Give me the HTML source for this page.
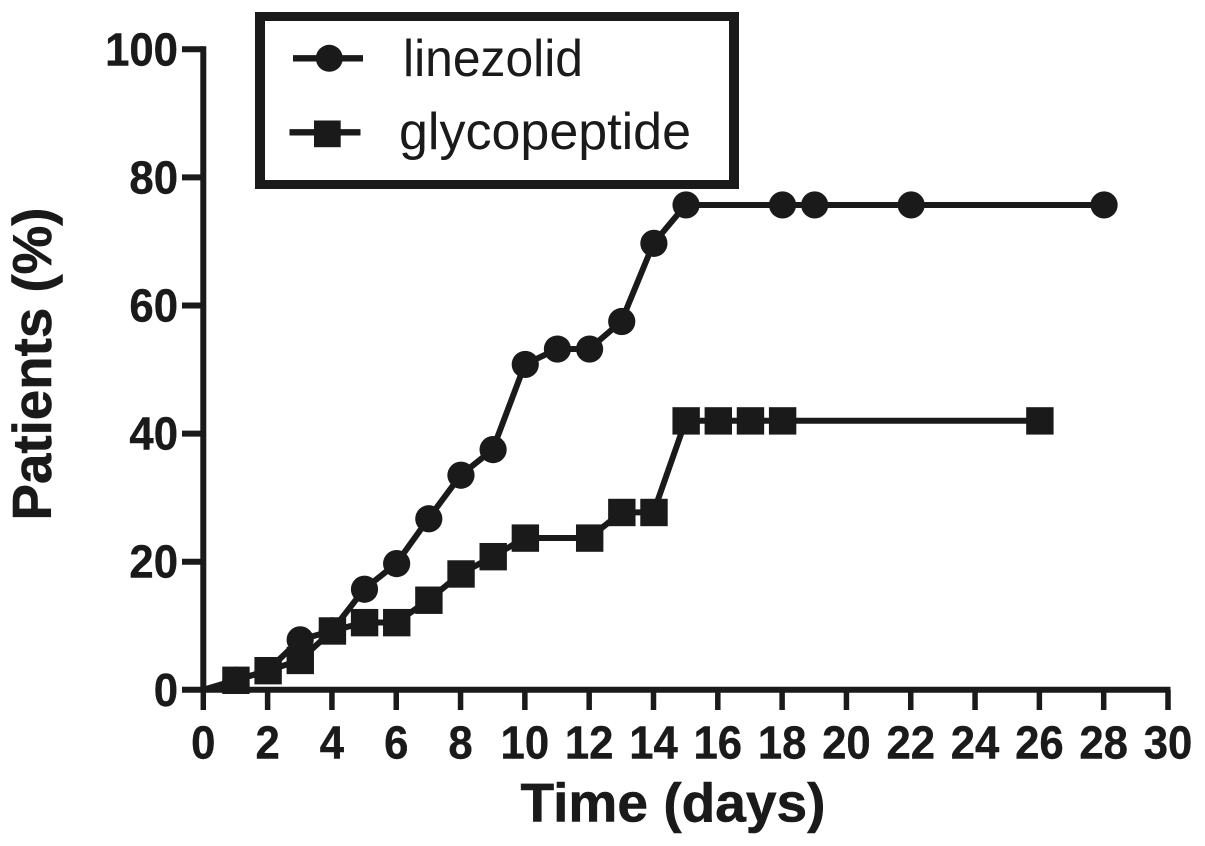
<!DOCTYPE html>
<html>
<head>
<meta charset="utf-8">
<style>
html,body{margin:0;padding:0;background:#fff;width:1205px;height:846px;overflow:hidden}
svg{display:block;position:absolute;left:0;top:0}
text{font-family:"Liberation Sans",Arial,sans-serif;fill:#1a1a1a}
</style>
</head>
<body>
<svg id="chart" xmlns="http://www.w3.org/2000/svg" width="1205" height="846" viewBox="0 0 1205 846">
  <g id="gridless-axes"></g>
  <g id="series-layer"></g>
  <text x="673" y="821.5" text-anchor="middle" font-size="55" font-weight="bold" stroke="#1a1a1a" stroke-width="0.6" textLength="305" lengthAdjust="spacingAndGlyphs">Time (days)</text>
  <text transform="translate(51,364) rotate(-90)" text-anchor="middle" font-size="55" font-weight="bold" stroke="#1a1a1a" stroke-width="0.6" textLength="313" lengthAdjust="spacingAndGlyphs">Patients (%)</text>
  <g>
    <rect x="255" y="12" width="484" height="177" fill="#1a1a1a"/>
    <rect x="265" y="21" width="464" height="159" fill="#fff"/>
    <g>
      <line x1="293" y1="58.3" x2="363" y2="58.3" stroke="#1a1a1a" stroke-width="6.3"/>
      <circle cx="329.3" cy="58.3" r="13.5" fill="#1a1a1a"/>
      <text x="403" y="76" font-size="52" textLength="180" lengthAdjust="spacingAndGlyphs">linezolid</text>
    </g>
    <g>
      <line x1="289.5" y1="132.3" x2="360.5" y2="132.3" stroke="#1a1a1a" stroke-width="6.3"/>
      <rect x="314" y="120.5" width="26.7" height="26.7" fill="#1a1a1a"/>
      <text x="399" y="149" font-size="52" textLength="292" lengthAdjust="spacingAndGlyphs">glycopeptide</text>
    </g>
  </g>
</svg>
<script>
const xTicks = [0,2,4,6,8,10,12,14,16,18,20,22,24,26,28,30];
const yTicks = [0,20,40,60,80,100];
const linezolidDays = [0,1,2,3,4,5,6,7,8,9,10,11,12,13,14,15,18,19,22,28];
const linezolidValues = [0,1.5,3,7.8,9.2,15.7,19.7,26.7,33.5,37.5,50.8,53.2,53.2,57.5,69.7,75.7,75.7,75.7,75.7,75.7];
const glycopeptideDays = [1,2,3,4,5,6,7,8,9,10,12,13,14,15,16,17,18,26];
const glycopeptideValues = [1.5,3,4.6,9.2,10.5,10.5,14,18.1,20.8,23.7,23.7,27.7,27.7,42,42,42,42,42];

const NS = 'http://www.w3.org/2000/svg';
const INK = '#1a1a1a';
const sx = v => 203.3 + v * (1168 - 203.3) / 30;
const sy = v => 689.8 - v * 6.405;

function make(tag, attrs, parent) {
  const el = document.createElementNS(NS, tag);
  for (const k in attrs) el.setAttribute(k, attrs[k]);
  parent.appendChild(el);
  return el;
}

const axes = document.getElementById('gridless-axes');
const seriesLayer = document.getElementById('series-layer');

const xAxisLine = make('line', {x1: sx(0), y1: sy(0), x2: sx(30) + 2.5, y2: sy(0), stroke: INK, 'stroke-width': 6}, axes);



const yAxisLine = make('line', {x1: sx(0), y1: sy(0), x2: sx(0), y2: sy(100) - 3, stroke: INK, 'stroke-width': 6}, axes);



xTicks.forEach(t => {
  const tick = make('line', {x1: sx(t), y1: sy(0), x2: sx(t), y2: 710, stroke: INK, 'stroke-width': 5.5}, axes);
  
  
  const label = make('text', {transform: 'translate(' + sx(t) + ',758.5) scale(0.95,1)', 'text-anchor': 'middle', 'font-size': 46, 'font-weight': 'bold', stroke: INK, 'stroke-width': 0.4}, axes);
  
  
  label.textContent = t;
});

yTicks.forEach(t => {
  const tick = make('line', {x1: 182, y1: sy(t), x2: sx(0), y2: sy(t), stroke: INK, 'stroke-width': 6}, axes);
  
  
  const label = make('text', {transform: 'translate(178,' + (sy(t) + 16) + ') scale(0.95,1)', 'text-anchor': 'end', 'font-size': 46, 'font-weight': 'bold', stroke: INK, 'stroke-width': 0.4}, axes);
  
  
  label.textContent = t;
});

function linePoints(days, values) {
  return days.map((d, i) => sx(d) + ',' + sy(values[i])).join(' ');
}

const lineLinezolid = make('polyline', {points: linePoints(linezolidDays, linezolidValues), fill: 'none', stroke: INK, 'stroke-width': 6, 'stroke-linejoin': 'round'}, seriesLayer);



linezolidDays.forEach((d, i) => {
  if (d === 0) return;
  const c = make('circle', {cx: sx(d) + 0.4, cy: sy(linezolidValues[i]), r: 13.6, fill: INK}, seriesLayer);
  
  
});

const lineGlyco = make('polyline', {points: linePoints(glycopeptideDays, glycopeptideValues), fill: 'none', stroke: INK, 'stroke-width': 6, 'stroke-linejoin': 'round'}, seriesLayer);



glycopeptideDays.forEach((d, i) => {
  const r = make('rect', {x: sx(d) - 13.2, y: sy(glycopeptideValues[i]) - 13.6, width: 27.4, height: 27.4, fill: INK}, seriesLayer);
  
  
});
</script>
</body>
</html>
